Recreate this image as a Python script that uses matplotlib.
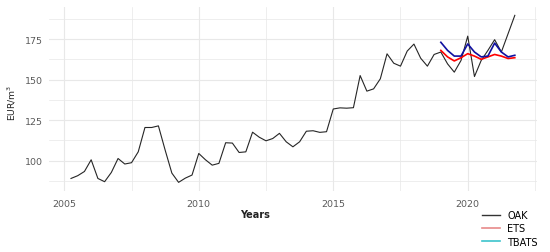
import numpy as np
import matplotlib
matplotlib.use("Agg")
import matplotlib.pyplot as plt
from matplotlib.lines import Line2D

# ---- data ----
oak_start = 2005.25
oak_values = [89.1, 90.8, 93.4,
              100.6, 89.1, 87.1, 92.8,
              101.4, 98.0, 98.8, 105.5,
              120.5, 120.5, 121.5, 106.6,
              92.4, 86.7, 89.3, 91.2,
              104.5, 100.6, 97.3, 98.4,
              111.1, 110.9, 105.1, 105.5,
              117.6, 114.5, 112.3, 113.7,
              116.9, 111.7, 108.6, 111.7,
              118.2, 118.5, 117.5, 117.9,
              131.9, 132.6, 132.4, 132.7,
              152.5, 142.9, 144.3, 150.5,
              165.9, 160.1, 158.3, 167.6,
              171.9, 163.2, 158.3, 165.5,
              167.0, 159.7, 154.6, 161.8,
              176.8, 151.9, 161.8, 168.0,
              174.6, 167.0, 178.3, 189.6]
fc_start = 2019.0
ets_values = [168.0, 164.0, 161.5, 163.5,
              166.0, 164.5, 162.5, 164.0,
              165.5, 164.5, 163.0, 163.5]
tbats_values = [173.0, 168.0, 164.5, 164.5,
                172.0, 167.0, 164.0, 164.5,
                172.5, 167.0, 164.0, 165.0]
series_labels = ["OAK", "ETS", "TBATS"]
x_ticks = [2005, 2010, 2015, 2020]
y_ticks = [100, 125, 150, 175]

oak_x = oak_start + 0.25 * np.arange(len(oak_values))
fc_x = fc_start + 0.25 * np.arange(len(ets_values))

W, H = 550, 253
fig = plt.figure(figsize=(W / 100, H / 100), dpi=100)
ax = fig.add_axes([48.8 / W, 1 - 191.7 / H, (537 - 48.8) / W, (191.7 - 8) / H])

grid_c = "#E8E8E8"
ax.plot(oak_x, oak_values, color="#262626", lw=0.8, zorder=3)
ax.plot(fc_x, ets_values, color="#FF0000", lw=1.2, zorder=4)
ax.plot(fc_x, tbats_values, color="#1010A0", lw=1.2, zorder=5)

ymin, ymax = min(oak_values), max(oak_values)
pad = 0.05 * (ymax - ymin)
ax.set_ylim(ymin - pad, ymax + pad)
xmin, xmax = oak_x[0], oak_x[-1]
xpad = 0.05 * (xmax - xmin)
ax.set_xlim(xmin - xpad, xmax + xpad)

ax.set_xticks(x_ticks)
ax.set_yticks(y_ticks)
ax.set_xticks([2007.5, 2012.5, 2017.5, 2022.5], minor=True)
ax.set_yticks([87.5, 112.5, 137.5, 162.5, 187.5], minor=True)
ax.grid(True, which="major", color=grid_c, lw=0.8, zorder=0)
ax.grid(True, which="minor", color=grid_c, lw=0.5, zorder=0)
for s in ax.spines.values():
    s.set_visible(False)
ax.tick_params(which="both", length=0, labelsize=6.8, labelcolor="#5A5A5A")
ax.tick_params(axis="x", pad=6)
ax.tick_params(axis="y", pad=4)

fig.text(255 / W, 1 - 215 / H, "Years", ha="center", va="center",
         fontsize=7, fontweight="bold", color="#222222")
fig.text(12 / W, 1 - 103 / H, "EUR/m$^3$", ha="center", va="center",
         rotation=90, fontsize=6.6, color="#222222")

handles = [Line2D([], [], color="#333333", lw=1.0),
           Line2D([], [], color="#E88A8A", lw=1.2),
           Line2D([], [], color="#3CC4CC", lw=1.2)]
fig.legend(handles, series_labels, loc="upper left",
           bbox_to_anchor=(482 / W, 1 - 211 / H), frameon=False,
           fontsize=7, handlelength=1.8, handletextpad=0.8,
           labelspacing=0.35, borderpad=0, borderaxespad=0)

fig.savefig("out.png", dpi=100)
